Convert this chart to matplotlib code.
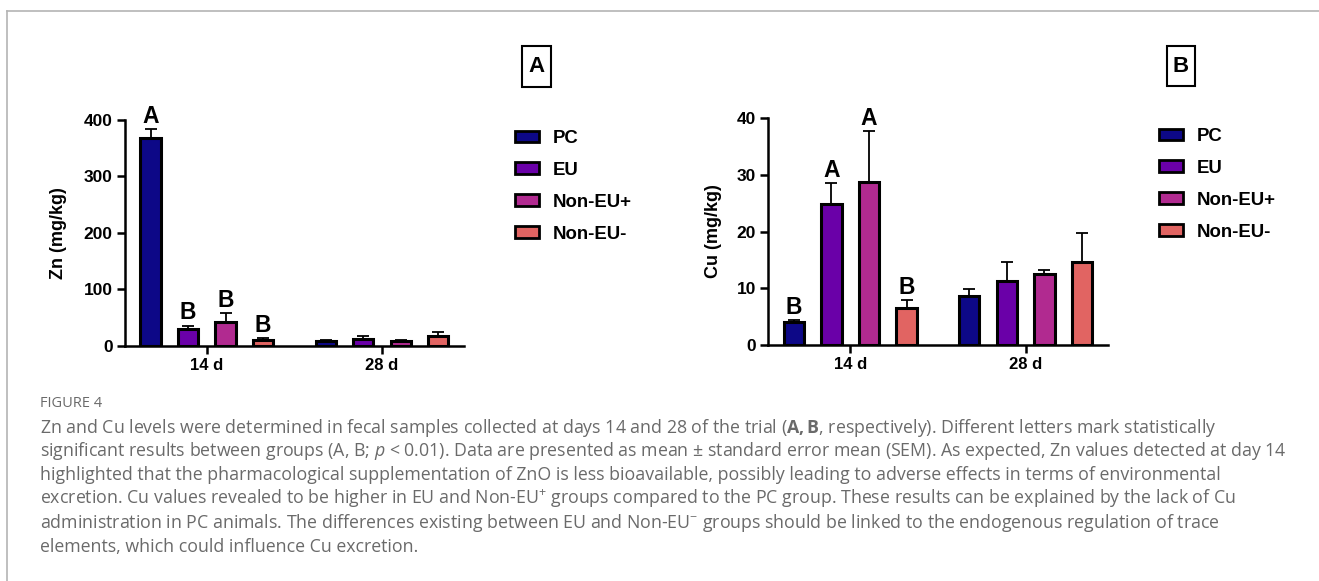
import matplotlib.pyplot as plt
import numpy as np
from matplotlib.lines import Line2D
from matplotlib.patches import Patch, Rectangle

plt.rcParams['font.family'] = ['Liberation Sans', 'DejaVu Sans']
plt.rcParams['mathtext.fontset'] = 'custom'
plt.rcParams['mathtext.rm'] = 'Open Sans'
plt.rcParams['mathtext.it'] = 'Open Sans:italic'
plt.rcParams['mathtext.bf'] = 'Open Sans:bold'

groups = ['PC', 'EU', 'Non-EU+', 'Non-EU-']
colors = ['#0d0887', '#6a00a8', '#b12a90', '#e16462']
days = ['14 d', '28 d']

zn_mean = [[367.6, 29.0, 42.5, 10.0],
           [9.0, 11.3, 9.0, 17.7]]
zn_sem = [[16.5, 6.5, 15.0, 4.0],
          [1.0, 5.7, 1.5, 6.3]]
zn_letters = [['A', 'B', 'B', 'B'], ['', '', '', '']]

cu_mean = [[4.0, 24.9, 28.8, 6.55],
           [8.66, 11.25, 12.5, 14.55]]
cu_sem = [[0.35, 3.6, 9.0, 1.35],
          [1.15, 3.35, 0.75, 5.15]]
cu_letters = [['B', 'A', 'A', 'B'], ['', '', '', '']]

caption_lines = [
    r'Zn and Cu levels were determined in fecal samples collected at days 14 and 28 of the trial ($\mathbf{A,B}$, respectively). Different letters mark statistically',
    r'significant results between groups (A, B; $p$ < 0.01). Data are presented as mean ± standard error mean (SEM). As expected, Zn values detected at day 14',
    r'highlighted that the pharmacological supplementation of ZnO is less bioavailable, possibly leading to adverse effects in terms of environmental',
    r'excretion. Cu values revealed to be higher in EU and Non-EU$^{+}$ groups compared to the PC group. These results can be explained by the lack of Cu',
    r'administration in PC animals. The differences existing between EU and Non-EU$^{-}$ groups should be linked to the endogenous regulation of trace',
    r'elements, which could influence Cu excretion.',
]

W, H = 1319, 581
fig = plt.figure(figsize=(W / 100, H / 100), dpi=100)

group_centers = np.array([0.0, 4.67])
offsets = np.arange(len(groups)) - 1.5
bar_w = 0.54


def draw_panel(ax, means, sems, letters, ymax, ystep, ylabel, label_x):
    for j, gc in enumerate(group_centers):
        for i in range(len(groups)):
            x = gc + offsets[i]
            m, s = means[j][i], sems[j][i]
            ax.bar(x, m, bar_w, color=colors[i], edgecolor='black',
                   linewidth=2.2, zorder=3)
            ax.errorbar(x, m, yerr=[[0], [s]], fmt='none', ecolor='black',
                        elinewidth=1.3, capsize=4.5, capthick=1.3, zorder=2)
            if letters[j][i]:
                ax.annotate(letters[j][i], (x, m + s), xytext=(0, 4.5),
                            textcoords='offset points', ha='center',
                            va='baseline', fontsize=16.5, fontweight='bold')
    ax.set_xlim(-2.18, 6.86)
    ax.set_ylim(0, ymax)
    ax.set_yticks(np.arange(0, ymax + 1, ystep))
    ax.set_xticks(group_centers)
    ax.set_xticklabels(days, fontsize=12, fontweight='bold',
                       family=['Liberation Sans Narrow', 'Liberation Sans'])
    for t in ax.get_yticklabels():
        t.set_fontweight('bold')
        t.set_fontsize(12.5)
    ax.spines[['top', 'right']].set_visible(False)
    for sp in ['left', 'bottom']:
        ax.spines[sp].set_linewidth(1.8)
    ax.tick_params(width=1.8, length=6, pad=3)
    ax.set_ylabel(ylabel, fontsize=13, fontweight='bold')
    ax.yaxis.set_label_coords(label_x, 0.5)


axA = fig.add_axes([125 / W, 1 - 345.7 / H, 339 / W, 225.7 / H])
draw_panel(axA, zn_mean, zn_sem, zn_letters, 400, 100, 'Zn (mg/kg)', -0.171)
axB = fig.add_axes([768.3 / W, 1 - 344.7 / H, 339.7 / W, 226.4 / H])
draw_panel(axB, cu_mean, cu_sem, cu_letters, 40, 10, 'Cu (mg/kg)', -0.136)

handles = [Patch(facecolor=c, edgecolor='black', linewidth=2, label=g)
           for g, c in zip(groups, colors)]
for ax, lx, ly in [(axA, 515 / W, 1 - 130 / H), (axB, 1159 / W, 1 - 128 / H)]:
    ax.legend(handles=handles, loc='upper left', bbox_to_anchor=(lx, ly),
              bbox_transform=fig.transFigure, frameon=False,
              prop=dict(weight='bold', size=13.4), handlelength=1.3,
              handleheight=0.6, handletextpad=0.75, labelspacing=0.8,
              borderpad=0, borderaxespad=0)

# panel letters in boxes
for letter, x0, y0, w, h in [('A', 522, 46, 29, 41), ('B', 1167, 46, 28, 40)]:
    fig.add_artist(Rectangle((x0 / W, 1 - (y0 + h) / H), w / W, h / H,
                             transform=fig.transFigure, fill=False,
                             edgecolor='black', linewidth=1.5))
    fig.text((x0 + w / 2) / W, 1 - (y0 + h / 2) / H, letter, ha='center',
             va='center', fontsize=16, fontweight='bold')

# light frame
fx, fy = 6.5 / W, 1 - 10.7 / H
fig.add_artist(Line2D([fx, fx], [0, fy], transform=fig.transFigure,
                      color='#b4b4b4', linewidth=1.2))
fig.add_artist(Line2D([fx, 1], [fy, fy], transform=fig.transFigure,
                      color='#b4b4b4', linewidth=1.2))

# caption
fig.text(40 / W, 1 - 406.7 / H, 'FIGURE 4', fontsize=10.5, color='#6a6a6a',
         family='Open Sans', va='baseline')
for k, line in enumerate(caption_lines):
    fig.text(40 / W, 1 - (432.7 + 23.8 * k) / H, line, fontsize=12.8,
             color='#6a6a6a', family='Open Sans', va='baseline')

fig.savefig('out.png', dpi=100)
